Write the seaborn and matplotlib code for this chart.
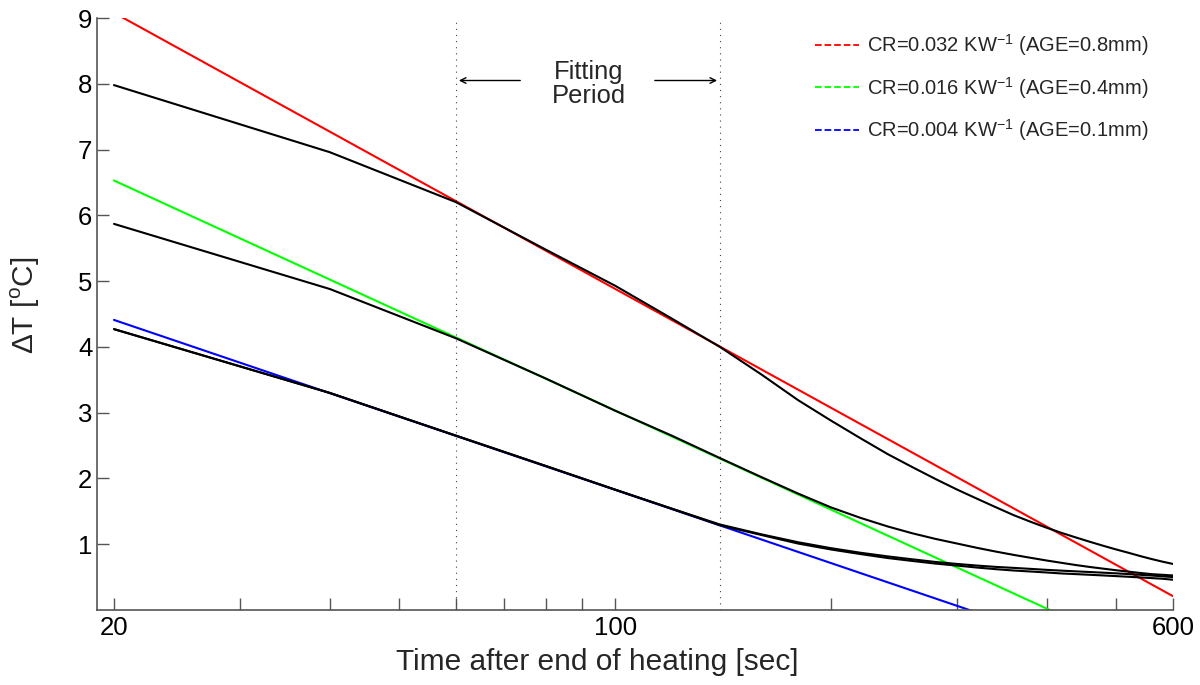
import numpy as np
import pandas as pd
import matplotlib
matplotlib.use("Agg")
import matplotlib.pyplot as plt
from matplotlib.lines import Line2D
import seaborn as sns

sns.set_style("ticks")
plt.rcParams["font.family"] = ["Liberation Sans", "DejaVu Sans"]
plt.rcParams["mathtext.fontset"] = "custom"
plt.rcParams["mathtext.rm"] = "Liberation Sans"

# Measured cooling curves (time after end of heating, seconds)
time_s = [20, 40, 60, 80, 100, 120, 140, 160, 180, 200, 220, 240, 260, 280, 300,
          320, 340, 360, 380, 400, 420, 440, 460, 480, 500, 520, 540, 560, 580, 600]
dT_run1 = [7.98, 6.96, 6.20, 5.48, 4.93, 4.43, 4.00, 3.58, 3.19, 2.88, 2.61, 2.37, 2.17, 1.99, 1.83,
           1.69, 1.56, 1.44, 1.34, 1.25, 1.17, 1.10, 1.035, 0.975, 0.92, 0.87, 0.82, 0.775, 0.735, 0.70]
dT_run2 = [5.87, 4.88, 4.13, 3.52, 3.03, 2.65, 2.31, 2.02, 1.77, 1.56, 1.40, 1.27, 1.165, 1.08, 1.01,
           0.944, 0.887, 0.837, 0.793, 0.752, 0.716, 0.682, 0.653, 0.628, 0.604, 0.583, 0.563, 0.545, 0.535, 0.525]
dT_run3 = [4.27, 3.30, 2.65, 2.19, 1.83, 1.54, 1.30, 1.15, 1.03, 0.94, 0.87, 0.815, 0.77, 0.73, 0.70,
           0.675, 0.655, 0.64, 0.625, 0.61, 0.598, 0.587, 0.577, 0.567, 0.557, 0.546, 0.535, 0.524, 0.512, 0.50]
dT_run4 = [4.27, 3.30, 2.65, 2.19, 1.83, 1.54, 1.29, 1.14, 1.01, 0.92, 0.85, 0.79, 0.745, 0.705, 0.675,
           0.645, 0.62, 0.60, 0.585, 0.57, 0.555, 0.545, 0.535, 0.525, 0.515, 0.505, 0.495, 0.485, 0.475, 0.46]

# Straight-line fits in log(time), given by their values at 20 s and 600 s
fit_time = [20, 600]
fit_red = [9.08, 0.21]
fit_green = [6.53, -0.86]
fit_blue = [4.41, -1.05]
fit_labels = [r"CR=0.032 KW$^{-1}$ (AGE=0.8mm)",
              r"CR=0.016 KW$^{-1}$ (AGE=0.4mm)",
              r"CR=0.004 KW$^{-1}$ (AGE=0.1mm)"]
fit_colors = ["#ff0000", "#00ff00", "#0000ff"]

fit_window = [60, 140]
x_ticks = [20, 30, 40, 50, 60, 70, 80, 90, 100, 200, 300, 400, 500, 600]
x_ticklabels = ["20", "", "", "", "", "", "", "", "100", "", "", "", "", "600"]
y_ticks = [1, 2, 3, 4, 5, 6, 7, 8, 9]

measured = pd.DataFrame({
    "t": time_s * 4,
    "dT": dT_run1 + dT_run2 + dT_run3 + dT_run4,
    "run": ["r1"] * 30 + ["r2"] * 30 + ["r3"] * 30 + ["r4"] * 30,
})
fits = pd.DataFrame({
    "t": fit_time * 3,
    "dT": fit_red + fit_green + fit_blue,
    "fit": ["red"] * 2 + ["green"] * 2 + ["blue"] * 2,
})

fig = plt.figure(figsize=(12, 6.85), dpi=100)
ax = fig.add_axes([0.081, 0.1095, 0.8965, 0.8642])

sns.lineplot(data=fits, x="t", y="dT", hue="fit", palette=dict(zip(["red", "green", "blue"], fit_colors)),
             linewidth=1.5, legend=False, ax=ax, zorder=2)
sns.lineplot(data=measured, x="t", y="dT", hue="run", palette=["black"] * 4,
             linewidth=1.5, legend=False, ax=ax, zorder=3)

ax.set_xscale("log")
ax.set_xlim(18.95, 600)
ax.set_ylim(0, 9)

for xv in fit_window:
    ax.axvline(xv, color="#444444", linestyle=(0, (1, 4.5)), linewidth=0.8, zorder=1)

ax.annotate("", xy=(fit_window[0], 8.05), xytext=(74.4, 8.05),
            arrowprops=dict(arrowstyle="->", color="black", lw=1.0))
ax.annotate("", xy=(fit_window[1], 8.05), xytext=(112.6, 8.05),
            arrowprops=dict(arrowstyle="->", color="black", lw=1.0))
ax.text(91.9, 8.0, "Fitting\nPeriod", ha="center", va="center", fontsize=18.4, linespacing=1.0)

ax.set_xticks(x_ticks)
ax.set_xticklabels(x_ticklabels)
ax.xaxis.set_minor_locator(matplotlib.ticker.NullLocator())
ax.set_yticks(y_ticks)
ax.set_yticklabels([str(v) for v in y_ticks])
ax.tick_params(axis="both", direction="in", length=8.5, width=1.0, color="#555555",
               labelsize=18.5, labelcolor="black")
ax.tick_params(axis="y", pad=3.5)
ax.tick_params(axis="x", pad=4)

for side in ["top", "right"]:
    ax.spines[side].set_visible(False)
for side in ["left", "bottom"]:
    ax.spines[side].set_color("#555555")
    ax.spines[side].set_linewidth(1.2)

ax.set_xlabel("Time after end of heating [sec]", fontsize=21.5)
ax.set_ylabel(r"$\Delta$T [$^{\rm o}$C]", fontsize=21.5)
ax.xaxis.set_label_coords(0.465, -0.065)
ax.yaxis.set_label_coords(-0.051, 0.515)

handles = [Line2D([0], [0], color=c, linestyle="--", linewidth=1.3) for c in fit_colors]
ax.legend(handles, fit_labels, loc="upper right", bbox_to_anchor=(0.9905, 1.0), frameon=False,
          fontsize=14.5, handlelength=2.2, handletextpad=0.4, labelspacing=0.83,
          borderaxespad=0.3)

fig.savefig("out.png", dpi=100)
